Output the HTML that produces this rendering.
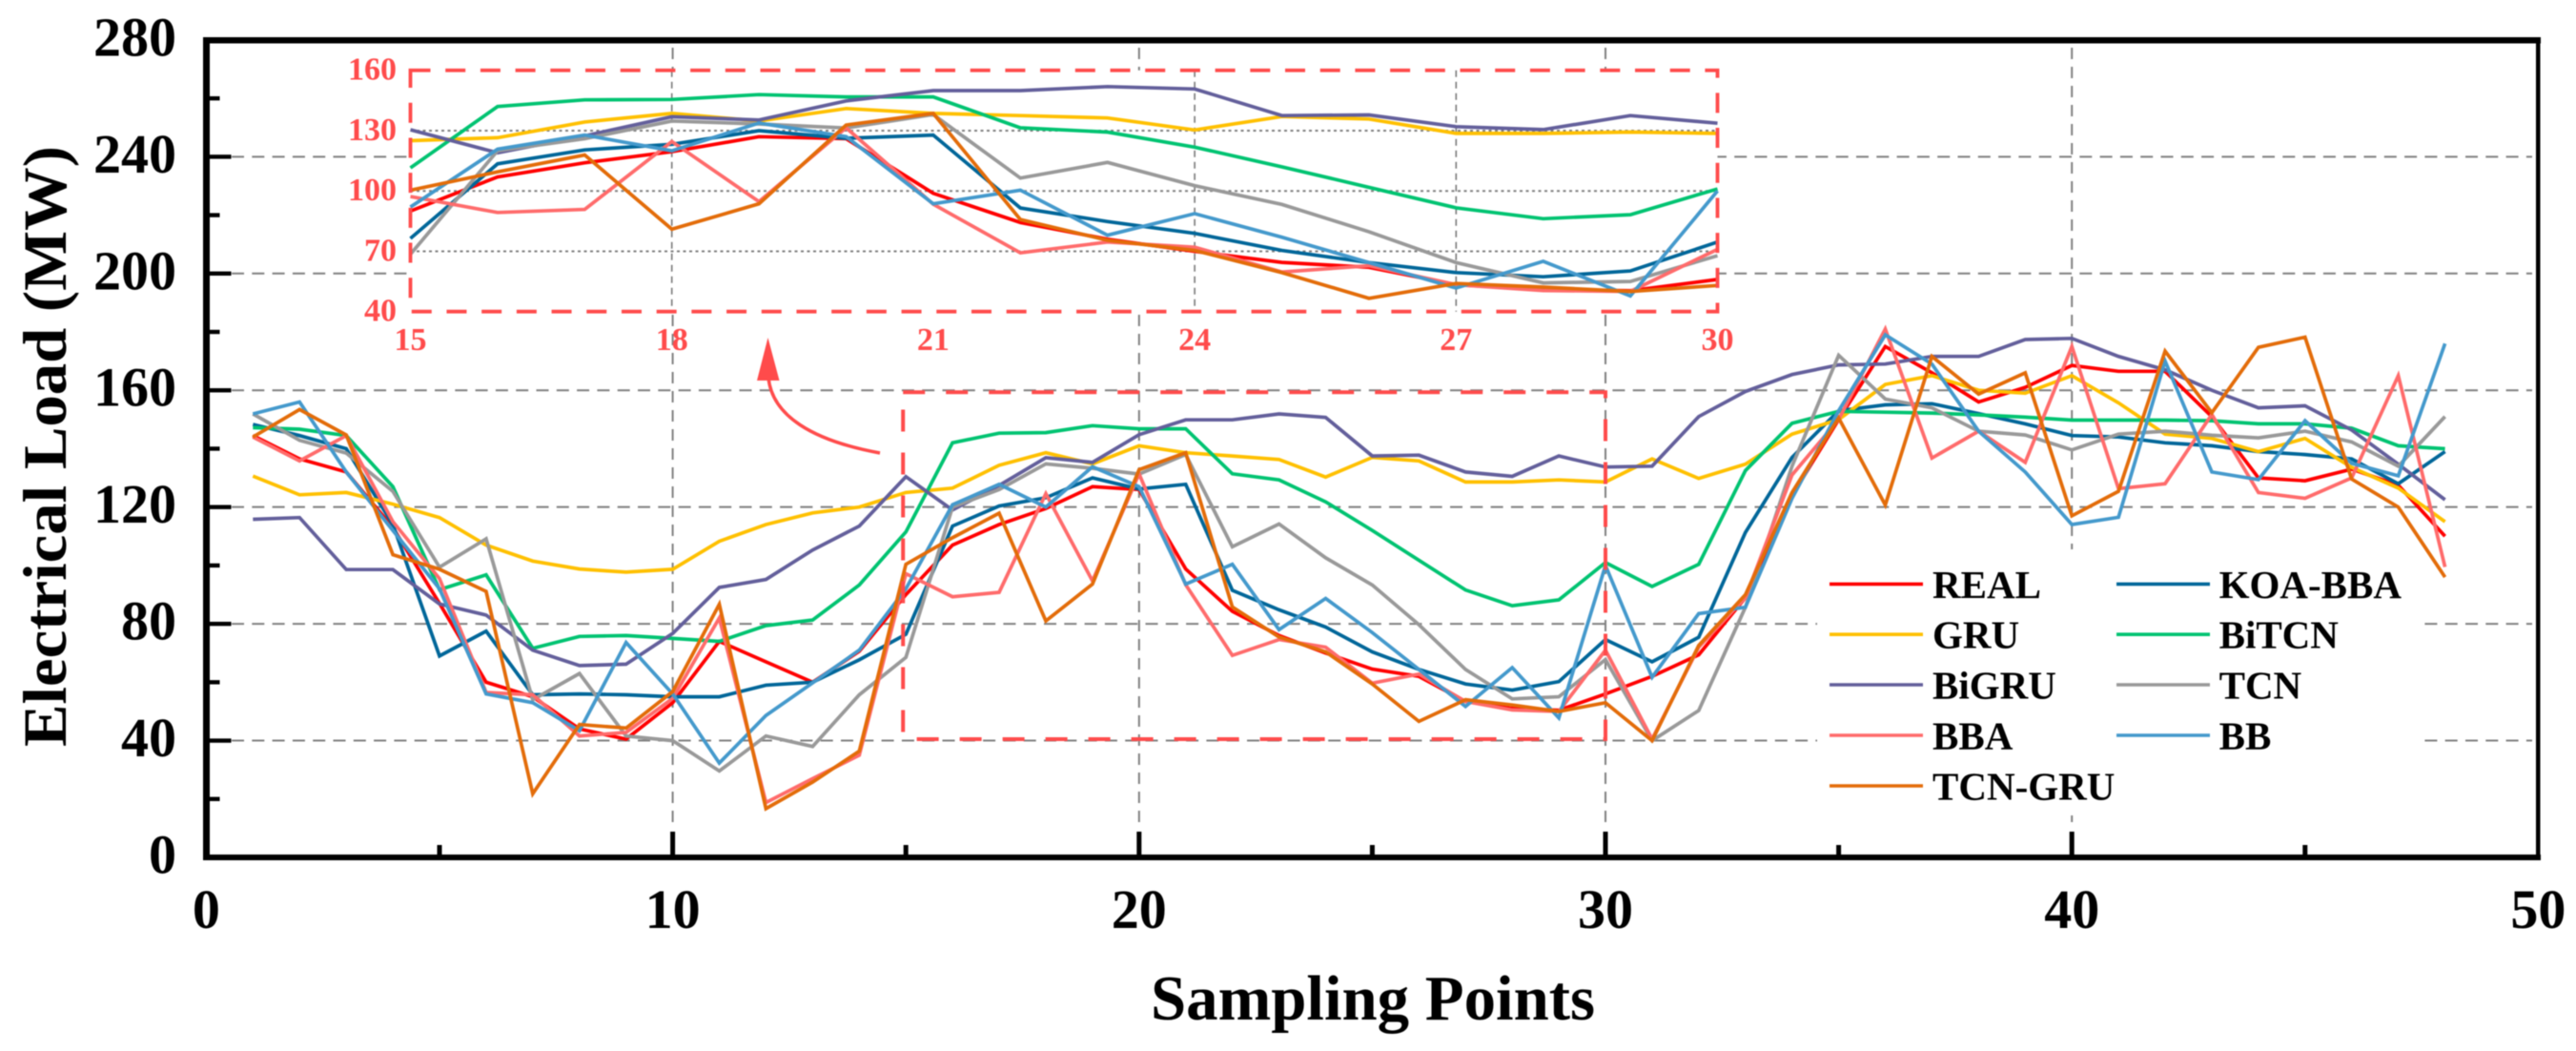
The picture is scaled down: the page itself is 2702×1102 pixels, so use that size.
<!DOCTYPE html>
<html lang="en">
<head>
<meta charset="utf-8">
<title>Electrical Load Forecast Comparison</title>
<style>
html,body{margin:0;padding:0;background:#fff;}
body{width:2702px;height:1102px;overflow:hidden;}
svg{display:block;filter:blur(0.5px);}
text{font-family:"Liberation Serif",serif;font-weight:bold;}
</style>
</head>
<body>
<svg id="chart" xmlns="http://www.w3.org/2000/svg" width="2702" height="1102" viewBox="0 0 2702 1102">
  <rect x="0" y="0" width="2702" height="1102" fill="#fff"/>
  <g id="grid"></g>
  <g id="mainLines"></g>
  <g id="zoomBox"></g>
  <g id="legendBg"></g>
  <g id="inset"></g>
  <g id="axes"></g>
  <path d="M806 396 C810 436 852 462 923 475" fill="none" stroke="#FF4B4B" stroke-width="3.5"/>
  <polygon points="805.5,354 794,399 817.5,399" fill="#FF4B4B"/>
  <text transform="translate(69 468) rotate(-90)" text-anchor="middle" font-size="65" textLength="630" lengthAdjust="spacingAndGlyphs">Electrical Load (MW)</text>
  <text x="1440" y="1069" text-anchor="middle" font-size="67" textLength="466" lengthAdjust="spacingAndGlyphs">Sampling Points</text>
  <g id="legend"></g>
</svg>
<script>
const samplingPoints = [1,2,3,4,5,6,7,8,9,10,11,12,13,14,15,16,17,18,19,20,21,22,23,24,25,26,27,28,29,30,31,32,33,34,35,36,37,38,39,40,41,42,43,44,45,46,47,48];
const real    = [144.5,136.5,132,113,87,60,55,44,40.5,53,74,67,60,70.6,90,107,114,119.5,127,126,98.8,84.3,76,70,64.5,62,53.4,51,50.4,56,62,69.4,89,124,150,175,166,156,161,168.5,166.5,166.5,151,130,129,133,127.5,110];
const koaBba  = [148.3,144.5,140,114,69,77.5,55.7,56,55.7,55,55,59,60,67.7,76.4,113.5,120.4,123.2,130,126.2,127.8,91.5,84.8,78.9,70.4,64.4,59.4,57.3,60.2,74.6,67,75.4,111.3,137,153,155,155.4,152,148.5,144.5,144,142,141,139,138,136.5,128,139];
const gru     = [130.6,124.2,125,121,116.4,107,101.5,98.8,97.7,98.7,108.3,114,118,120,125,126.5,134.3,138.6,134.8,141,138.6,137.5,136.3,130.3,137,135.8,128.6,128.6,129.3,128.6,136.5,129.8,134.7,145,150,162,165,160,159,165,155.7,145,143.5,139,143.5,133.6,126.5,115];
const biTcn   = [147.2,146.7,144.5,127,91.7,96.8,71.6,75.7,76,75,74,79.4,81.3,93.3,111.5,142,145.3,145.5,147.9,146.8,146.8,131.4,129.3,121.8,112,101.8,91.6,86.2,88.2,101,92.8,100.4,132.5,148.7,152.8,152.5,152.2,151.6,150.8,149.8,149.8,149.8,149.6,148.5,148.5,147,141,140];
const biGru   = [115.8,116.4,98.6,98.6,86.8,83,71,65.7,66.2,76.7,92.5,95.2,105.3,113.5,130.4,119,127.4,136.9,135.3,144.8,149.9,149.9,151.9,150.7,137.5,137.8,132,130.5,137.5,133.7,134,151,159.6,165.4,168.7,169,171.6,171.6,177.4,177.8,171.6,167,160,154,154.7,146.4,134.7,122.5];
const tcn     = [151.9,142.9,138.5,125.4,99.4,109.1,54,63,41.6,40,29.6,41.6,38,55.7,68.5,120,126,134.8,133.3,131.3,138,106.4,114.2,102.6,93.3,79.7,64.4,54.3,55,67.8,40,50.3,85.7,134,172,157,154,146,144.7,139.6,145,146,144.6,143.7,146,142.3,134,151];
const bba     = [144,135.8,144.5,115,95.5,56.5,55.7,41.6,42.8,54.5,82,18.8,27,35,97.2,89.3,90.8,124.6,94.7,131.4,93.4,69.2,74.6,72,59.7,62.8,53.4,50.5,50,71,40.5,72,89,131,150,181,136.8,146,135.3,175,126.3,128,151.7,125,123,130,165,99.5];
const bb      = [151.9,156,132,112,92,56,53,43.4,73.6,56,32.3,48.6,59.8,71,92,120.8,127.8,120,133.8,127,93.6,100.4,78,88.7,77,64.4,51.7,65,47.8,100,61.7,83.5,85.7,123,153,179,169,146,132,114,116.5,170,132,129.4,149.6,135,130.7,176];
const tcnGru  = [144,153.4,144.7,103.7,98.7,91.1,21.8,45.5,44.3,56.8,86.7,16.7,25.8,36.4,100.4,109.5,117.9,81,93.6,132.8,138.6,85.8,75.5,70.4,59.4,46.6,54,52.2,50,53,40,72.6,90,125,150.5,120.7,171.6,158.7,166,117,125.4,173.4,152.3,174.7,178.2,129.6,120,96];

const seriesNames  = ["REAL","KOA-BBA","GRU","BiTCN","BiGRU","TCN","BBA","BB","TCN-GRU"];
const seriesValues = [real,koaBba,gru,biTcn,biGru,tcn,bba,bb,tcnGru];
const seriesColors = ["#FF0000","#006699","#FFC000","#00C371","#635F9B","#999999","#FF6B6B","#4499CC","#E36C09"];

const yTickLabels = [0,40,80,120,160,200,240,280];
const yMinorTicks = [20,60,100,140,180,220,260];
const xTickLabels = [0,10,20,30,40,50];
const xMinorTicks = [5,15,25,35,45];
const yGridValues = [40,80,120,160,200,240];
const xGridValues = [10,20,30,40];
const insetYLabels = [40,70,100,130,160];
const insetXLabels = [15,18,21,24,27,30];
const insetYGrid = [70,100,130];
const insetXGrid = [18,24,27];
const zoomRange = {x0:15,x1:30,y0:40,y1:160};

const NS = "http://www.w3.org/2000/svg";
function make(parent,tag,attrs,txt){
  const el = document.createElementNS(NS,tag);
  for(const k in attrs){ el.setAttribute(k,attrs[k]); }
  if(txt!==undefined){ el.textContent = txt; }
  parent.appendChild(el);
  return el;
}
const xAxis = t => 216.4 + 48.92*t;
const yAxis = v => 899 - 3.061*v;
const xInset = t => 430.5 + (t-15)*91.4;
const yInset = v => 326.7 - (v-40)*2.108;

const gridG = document.getElementById("grid");
yGridValues.forEach(v=>{
  const el = make(gridG,"line",{x1:243,x2:2656,y1:yAxis(v),y2:yAxis(v),stroke:"#808080","stroke-width":2,"stroke-dasharray":"13 8.3"});
  
  
});
xGridValues.forEach(t=>{
  const el = make(gridG,"line",{x1:xAxis(t),x2:xAxis(t),y1:50,y2:870,stroke:"#808080","stroke-width":2,"stroke-dasharray":"12 8"});
  
  
});

function pathFor(vals,xf,yf,from,to){
  let d="";
  samplingPoints.forEach((t,i)=>{
    if(t<from||t>to) return;
    d += (d?"L":"M")+xf(t).toFixed(1)+" "+yf(vals[i]).toFixed(1);
  });
  return d;
}

const mainG = document.getElementById("mainLines");
seriesValues.forEach((vals,i)=>{
  const el = make(mainG,"path",{d:pathFor(vals,xAxis,yAxis,1,48),fill:"none",stroke:seriesColors[i],"stroke-width":3.7,"stroke-linejoin":"miter"});
  
  
});

const boxG = document.getElementById("zoomBox");
const boxEl = make(boxG,"rect",{x:xAxis(zoomRange.x0)-3,y:yAxis(zoomRange.y1)+2,width:xAxis(zoomRange.x1)-xAxis(zoomRange.x0)+3,height:yAxis(zoomRange.y0)-yAxis(zoomRange.y1)-3.5,fill:"none",stroke:"#FF4B4B","stroke-width":4,"stroke-dasharray":"23 22"});



const legendBgEl = make(document.getElementById("legendBg"),"rect",{x:1906,y:576,width:632,height:279,fill:"#fff"});



const insetG = document.getElementById("inset");
const insetBg = make(insetG,"rect",{x:xInset(15),y:yInset(160),width:xInset(30)-xInset(15),height:yInset(40)-yInset(160),fill:"#fff"});


insetYGrid.forEach(v=>{
  const el = make(insetG,"line",{x1:xInset(15),x2:xInset(30),y1:yInset(v),y2:yInset(v),stroke:"#808080","stroke-width":2,"stroke-dasharray":"3 3.5"});
  
  
});
insetXGrid.forEach(t=>{
  const el = make(insetG,"line",{x1:xInset(t),x2:xInset(t),y1:yInset(160),y2:yInset(40),stroke:"#808080","stroke-width":1.7,"stroke-dasharray":"7 5"});
  
  
});
seriesValues.forEach((vals,i)=>{
  const el = make(insetG,"path",{d:pathFor(vals,xInset,yInset,15,30),fill:"none",stroke:seriesColors[i],"stroke-width":3.7});
  
  
});
const insetFrame = make(insetG,"rect",{x:xInset(15),y:yInset(160),width:xInset(30)-xInset(15),height:yInset(40)-yInset(160),fill:"none",stroke:"#FF4B4B","stroke-width":3.8,"stroke-dasharray":"21 15.7"});


insetYLabels.forEach(v=>{
  const el = make(insetG,"text",{x:416,y:yInset(v)+10,"text-anchor":"end","font-size":34,fill:"#FF4B4B"},String(v));
  
  
});
insetXLabels.forEach(t=>{
  const el = make(insetG,"text",{x:xInset(t),y:367,"text-anchor":"middle","font-size":34,fill:"#FF4B4B"},String(t));
  
  
});

const axesG = document.getElementById("axes");
const spines = [
  {name:"left-spine",x:213,y:39,w:7,h:863},
  {name:"bottom-spine",x:213,y:896,w:2452,h:6},
  {name:"top-spine",x:213,y:39,w:2452,h:6.5},
  {name:"right-spine",x:2660,y:39,w:4.5,h:863}
];
spines.forEach(s=>{
  const el = make(axesG,"rect",{x:s.x,y:s.y,width:s.w,height:s.h,fill:"#000"});
  
  
});
yTickLabels.forEach(v=>{
  if(v!==0 && v!==280){
    const tick = make(axesG,"rect",{x:216,y:yAxis(v)-2.2,width:26.5,height:4.4,fill:"#000"});
    
    
  }
  const el = make(axesG,"text",{x:185,y:yAxis(v)+16.5,"text-anchor":"end","font-size":58,fill:"#000"},String(v));
  
  
});
yMinorTicks.forEach(v=>{
  const tick = make(axesG,"rect",{x:216,y:yAxis(v)-2.2,width:14.5,height:4.4,fill:"#000"});
  
  
});
xTickLabels.forEach(t=>{
  if(t!==0 && t!==50){
    const tick = make(axesG,"rect",{x:xAxis(t)-2.5,y:872,width:5,height:26,fill:"#000"});
    
    
  }
  const el = make(axesG,"text",{x:xAxis(t),y:973,"text-anchor":"middle","font-size":58,fill:"#000"},String(t));
  
  
});
xMinorTicks.forEach(t=>{
  const tick = make(axesG,"rect",{x:xAxis(t)-2.5,y:886,width:5,height:12,fill:"#000"});
  
  
});

const legendG = document.getElementById("legend");
const legendRows = [612.4,665.2,718,771,824];
const legendColumns = [{lx:1919,tx:2027},{lx:2220,tx:2327.6}];
seriesNames.forEach((name,i)=>{
  // legend reads down: REAL/KOA-BBA, GRU/BiTCN, BiGRU/TCN, BBA/BB, TCN-GRU
  const order = [0,2,4,6,8,1,3,5,7].indexOf(i);
  const col = legendColumns[order<5?0:1];
  const rowY = legendRows[order<5?order:order-5];
  const sw = make(legendG,"line",{x1:col.lx,x2:col.lx+98,y1:rowY,y2:rowY,stroke:seriesColors[i],"stroke-width":3.6});
  
  
  const tx = make(legendG,"text",{x:col.tx,y:rowY+14.5,"font-size":41,fill:"#000"},name);
  
  
});
</script>
</body>
</html>
